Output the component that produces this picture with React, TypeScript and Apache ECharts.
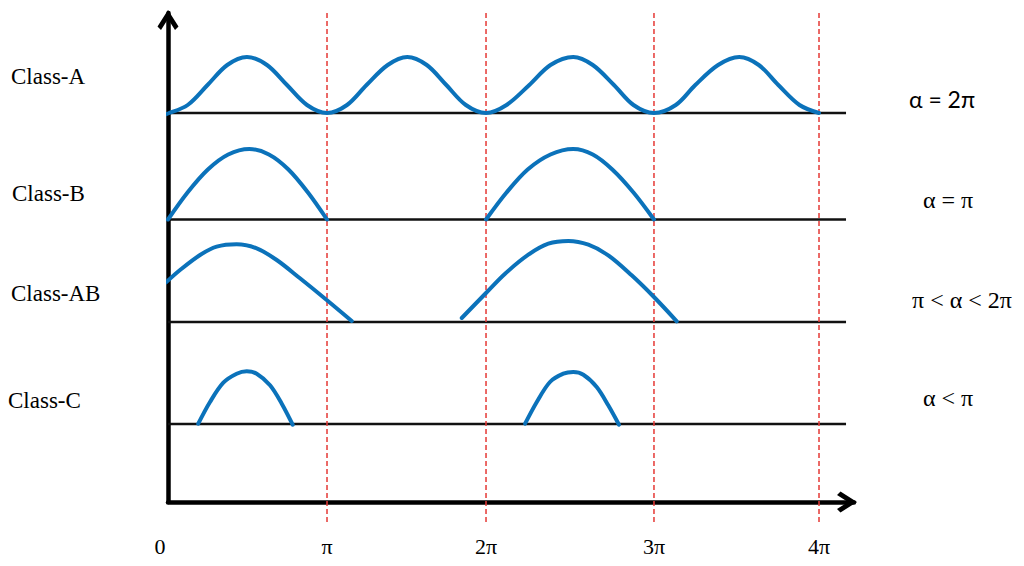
import React, { useEffect, useRef } from 'react';
import * as echarts from 'echarts';

// ---- data (x in units of π, y in arbitrary vertical units) ----
const tickLabels = ['0', 'π', '2π', '3π', '4π'];
const tickPositions = [0, 0.977, 1.954, 2.986, 4.0];
const dashedPositions = [0.977, 1.954, 2.986, 4.0];
const dashedSpan = [-2, 49.2];

const classNames = ['Class-A', 'Class-B', 'Class-AB', 'Class-C'];
const conditions = ['α = 2π', 'α = π', 'π < α < 2π', 'α < π'];
const baselineLevels = [38.9, 28.25, 18.0, 7.8];
const baselineSpan = [0, 4.166];

const classA: number[][] = [
  [-0.04, 38.7], [0.0, 38.85], [0.121, 39.7], [0.243, 41.7], [0.364, 43.7], [0.485, 44.5],
  [0.608, 43.7], [0.731, 41.7], [0.854, 39.7], [0.977, 38.9],
  [1.1, 39.7], [1.22, 41.7], [1.35, 43.7], [1.47, 44.5], [1.59, 43.7], [1.71, 41.7], [1.83, 39.7], [1.954, 38.9],
  [2.08, 39.7], [2.22, 41.7], [2.35, 43.7], [2.49, 44.5], [2.61, 43.7], [2.74, 41.7], [2.86, 39.7], [2.986, 38.9],
  [3.12, 39.7], [3.24, 41.7], [3.38, 43.7], [3.51, 44.5], [3.63, 43.7], [3.75, 41.7], [3.88, 39.7], [4.0, 38.9],
];
const classB1: number[][] = [
  [0, 28.25], [0.12, 30.95], [0.245, 33.25], [0.37, 34.75], [0.5, 35.3],
  [0.62, 34.75], [0.74, 33.25], [0.86, 30.95], [0.977, 28.25],
];
const classB2: number[][] = [
  [1.954, 28.25], [2.08, 30.95], [2.21, 33.25], [2.35, 34.75], [2.49, 35.3],
  [2.61, 34.75], [2.73, 33.25], [2.86, 30.95], [2.986, 28.25],
];
const classAB1: number[][] = [
  [-0.012, 21.97], [0.074, 23.2], [0.197, 24.7], [0.299, 25.53], [0.422, 25.77],
  [0.545, 25.37], [0.668, 24.2], [0.811, 22.37], [0.975, 20.2], [1.129, 18.1],
];
const classAB2: number[][] = [
  [1.805, 18.4], [1.954, 20.9], [2.071, 22.83], [2.214, 24.73], [2.337, 25.83], [2.46, 26.1],
  [2.583, 25.73], [2.705, 24.67], [2.849, 22.67], [2.986, 20.5], [3.126, 18.07],
];
const classC1: number[][] = [
  [0.186, 7.83], [0.258, 10.0], [0.34, 11.93], [0.422, 12.83], [0.484, 13.07],
  [0.545, 12.83], [0.627, 11.67], [0.699, 9.83], [0.766, 7.73],
];
const classC2: number[][] = [
  [2.194, 7.83], [2.266, 10.0], [2.347, 12.0], [2.429, 12.83], [2.49, 13.0],
  [2.552, 12.73], [2.634, 11.5], [2.705, 9.67], [2.771, 7.73],
];

const curves = [classA, classB1, classB2, classAB1, classAB2, classC1, classC2];

const chevron = 'path://M10.5,0 L21,16.5 L17.5,20 L10.5,9 L3.5,20 L0,16.5 Z';
const serif = 'Liberation Serif';

export default function App() {
  const ref = useRef<HTMLDivElement>(null);

  useEffect(() => {
    if (!ref.current) return;
    const chart = echarts.init(ref.current, undefined, { renderer: 'svg' });

    const baselineSeries = baselineLevels.map((lv) => ({
      type: 'line',
      data: [[baselineSpan[0], lv], [baselineSpan[1], lv]],
      symbol: 'none',
      silent: true,
      z: 1,
      lineStyle: { color: '#111', width: 2.5 },
    }));

    const dashedSeries = dashedPositions.map((x) => ({
      type: 'line',
      data: [[x, dashedSpan[0]], [x, dashedSpan[1]]],
      symbol: 'none',
      silent: true,
      clip: false,
      z: 2,
      lineStyle: { color: '#e53935', width: 1.5, type: [5, 3] },
    }));

    const curveSeries = curves.map((c) => ({
      type: 'line',
      data: c,
      symbol: 'none',
      smooth: 0.33,
      silent: true,
      clip: false,
      z: 3,
      lineStyle: { color: '#0b72ba', width: 4, cap: 'round', join: 'round' },
    }));

    const leftPos = [[11, 76], [12, 193], [11, 293], [8, 400]];
    const rightPos = [[942, 99], [948, 200], [962, 300], [948, 398]];

    const graphics: any[] = [];
    classNames.forEach((name, i) => {
      graphics.push({
        type: 'text',
        x: leftPos[i][0],
        y: leftPos[i][1],
        style: {
          text: name,
          fill: '#000',
          fontFamily: serif,
          fontSize: 23,
          align: 'left',
          verticalAlign: 'middle',
        },
      });
    });
    conditions.forEach((t, i) => {
      graphics.push({
        type: 'text',
        x: rightPos[i][0],
        y: rightPos[i][1],
        style: {
          text: t,
          fill: '#000',
          fontFamily: i === 0 ? 'Lato' : serif,
          fontSize: i === 0 ? 23 : 24,
          align: 'center',
          verticalAlign: 'middle',
        },
      });
    });

    const axisLineStyle = {
      color: '#000',
      width: 4.5,
    };

    chart.setOption({
      animation: false,
      grid: { left: 168, right: 170, top: 13, bottom: 64 },
      xAxis: {
        type: 'value',
        min: 0,
        max: 4.215,
        axisLine: {
          show: true,
          onZero: false,
          symbol: ['none', chevron],
          symbolSize: [21, 20],
          symbolOffset: [0, -7],
          lineStyle: axisLineStyle,
        },
        axisTick: { show: false },
        splitLine: { show: false },
        axisLabel: {
          show: true,
          customValues: tickPositions,
          margin: 33,
          color: '#000',
          fontFamily: serif,
          fontSize: 22,
          formatter: (v: number) => {
            let best = 0;
            tickPositions.forEach((p, i) => {
              if (Math.abs(p - v) < Math.abs(tickPositions[best] - v)) best = i;
            });
            return best === 0 ? '{z|' + tickLabels[0] + '}' : tickLabels[best];
          },
          rich: {
            z: { fontFamily: serif, fontSize: 22, color: '#000', padding: [0, 16, 0, 0] },
          },
        },
      },
      yAxis: {
        type: 'value',
        min: 0,
        max: 48.9,
        axisLine: {
          show: true,
          onZero: false,
          symbol: ['none', chevron],
          symbolSize: [21, 20],
          symbolOffset: [0, -7],
          lineStyle: axisLineStyle,
        },
        axisTick: { show: false },
        splitLine: { show: false },
        axisLabel: { show: false },
      },
      graphic: graphics,
      series: [...baselineSeries, ...dashedSeries, ...curveSeries],
    });

    return () => chart.dispose();
  }, []);

  return (
    <div
      ref={ref}
      style={{ position: 'fixed', left: 0, top: 0, width: 1024, height: 566, background: '#fff' }}
    />
  );
}
